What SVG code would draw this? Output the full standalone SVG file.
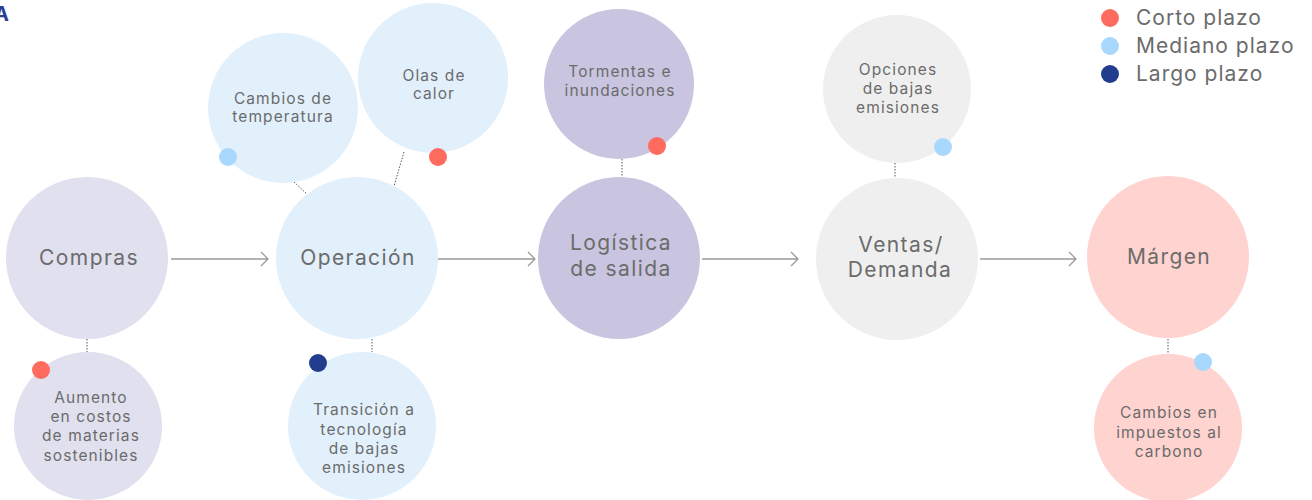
<svg xmlns="http://www.w3.org/2000/svg" width="1312" height="500" viewBox="0 0 1312 500">
<style>
.t{font-family:"Inter","Noto Sans",sans-serif;fill:#6b6b6b;text-anchor:middle}
.big{font-size:21px;letter-spacing:1.4px}
.sm{font-size:15.5px;letter-spacing:1.1px}
.leg{font-family:"Inter","Noto Sans",sans-serif;fill:#6b6b6b;font-size:21px;letter-spacing:1px}
.dot{stroke:#555;stroke-width:1;stroke-dasharray:1.5 1.5;fill:none}
.arr{stroke:#9a9a9a;stroke-width:1.3;fill:none}
.r{fill:#ff6b5e}.b{fill:#a8d8fd}.d{fill:#233d8e}
</style>
<rect width="1312" height="500" fill="#fff"/>
<text x="-6" y="21" font-family="Inter,'Noto Sans',sans-serif" font-weight="bold" font-size="20" fill="#2a3f8f">A</text>
<g id="connectors">
<line class="dot" x1="87" y1="339" x2="87" y2="352"/>
<line class="dot" x1="372" y1="339" x2="372" y2="352"/>
<line class="dot" x1="294" y1="182" x2="307" y2="194"/>
<line class="dot" x1="404" y1="152" x2="394" y2="186"/>
<line class="dot" x1="622" y1="159" x2="622" y2="178"/>
<line class="dot" x1="895" y1="163" x2="895" y2="178"/>
<line class="dot" x1="1168" y1="339" x2="1168" y2="354"/>
<path class="arr" d="M171 259H268M261 252L268 259L261 266"/>
<path class="arr" d="M438 259H535M528 252L535 259L528 266"/>
<path class="arr" d="M702 259H798M791 252L798 259L791 266"/>
<path class="arr" d="M980 259H1076M1069 252L1076 259L1069 266"/>
</g>
<g id="compras"><circle cx="87" cy="258" r="81" fill="#e0e0ee"/><text class="t big" x="89" y="265">Compras</text></g>
<g id="operacion"><circle cx="357" cy="258" r="81" fill="#e2f0fc"/><text class="t big" x="358" y="265">Operación</text></g>
<g id="logistica"><circle cx="619" cy="258" r="81" fill="#c9c5e0"/><text class="t big" x="621" y="250">Logística</text><text class="t big" x="621" y="276">de salida</text></g>
<g id="ventas"><circle cx="897" cy="259" r="81" fill="#efefef"/><text class="t big" x="901" y="252">Ventas/</text><text class="t big" x="900" y="277">Demanda</text></g>
<g id="margen"><circle cx="1168" cy="257" r="81" fill="#ffd3cf"/><text class="t big" x="1169" y="264">Márgen</text></g>
<g id="aumento"><circle cx="88" cy="426" r="74" fill="#e0e0ee"/><circle class="r" cx="41" cy="370" r="9"/><text class="t sm" x="91" y="403">Aumento</text><text class="t sm" x="91" y="422">en costos</text><text class="t sm" x="91" y="441">de materias</text><text class="t sm" x="91" y="461">sostenibles</text></g>
<g id="transicion"><circle cx="362" cy="426" r="74" fill="#e2f0fc"/><circle class="d" cx="318" cy="363" r="9"/><text class="t sm" x="364" y="415">Transición a</text><text class="t sm" x="364" y="435">tecnología</text><text class="t sm" x="364" y="454">de bajas</text><text class="t sm" x="364" y="473">emisiones</text></g>
<g id="temperatura"><circle cx="283" cy="108" r="75" fill="#e2f0fc"/><circle class="b" cx="228" cy="157" r="9"/><text class="t sm" x="283" y="104">Cambios de</text><text class="t sm" x="283" y="122">temperatura</text></g>
<g id="olas"><circle cx="433" cy="78" r="75" fill="#e2f0fc"/><circle class="r" cx="438" cy="157" r="9"/><text class="t sm" x="434" y="81">Olas de</text><text class="t sm" x="434" y="99">calor</text></g>
<g id="tormentas"><circle cx="619" cy="84" r="75" fill="#c9c5e0"/><circle class="r" cx="657" cy="146" r="9"/><text class="t sm" x="620" y="77">Tormentas e</text><text class="t sm" x="620" y="96">inundaciones</text></g>
<g id="opciones"><circle cx="897" cy="89" r="74" fill="#efefef"/><circle class="b" cx="943" cy="147" r="9"/><text class="t sm" x="898" y="75">Opciones</text><text class="t sm" x="898" y="94">de bajas</text><text class="t sm" x="898" y="113">emisiones</text></g>
<g id="impuestos"><circle cx="1168" cy="428" r="74" fill="#ffd3cf"/><circle class="b" cx="1203" cy="362" r="9"/><text class="t sm" x="1169" y="418">Cambios en</text><text class="t sm" x="1169" y="438">impuestos al</text><text class="t sm" x="1169" y="457">carbono</text></g>
<g id="legend">
<circle class="r" cx="1110" cy="18" r="9"/><text class="leg" x="1136" y="25">Corto plazo</text>
<circle class="b" cx="1110" cy="46" r="9"/><text class="leg" x="1136" y="53">Mediano plazo</text>
<circle class="d" cx="1110" cy="74" r="9"/><text class="leg" x="1136" y="81">Largo plazo</text>
</g>
</svg>
